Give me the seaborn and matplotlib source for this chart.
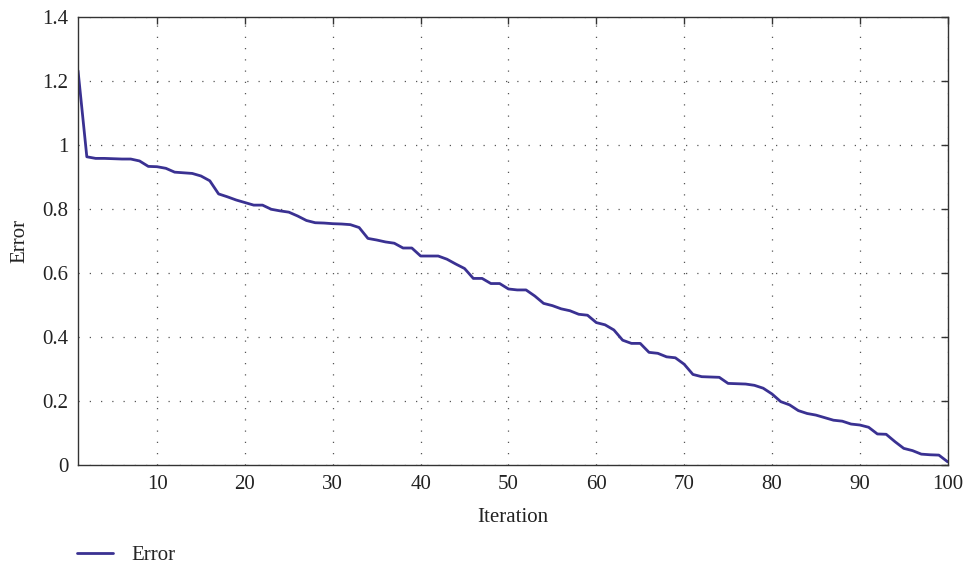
import seaborn as sns
import matplotlib.pyplot as plt
import numpy as np
import pandas as pd

iterations = list(range(1, 101))
error = [1.232, 0.963, 0.958, 0.958, 0.957, 0.956, 0.956, 0.950, 0.933, 0.932,
         0.927, 0.915, 0.913, 0.911, 0.903, 0.888, 0.847, 0.838, 0.828, 0.820,
         0.812, 0.812, 0.799, 0.794, 0.790, 0.778, 0.764, 0.757, 0.756, 0.754,
         0.753, 0.751, 0.742, 0.708, 0.703, 0.697, 0.693, 0.678, 0.678, 0.653,
         0.653, 0.653, 0.643, 0.628, 0.614, 0.583, 0.583, 0.567, 0.567, 0.550,
         0.547, 0.547, 0.528, 0.505, 0.498, 0.488, 0.482, 0.471, 0.468, 0.445,
         0.438, 0.422, 0.390, 0.380, 0.380, 0.352, 0.349, 0.338, 0.335, 0.315,
         0.283, 0.276, 0.275, 0.274, 0.255, 0.254, 0.253, 0.249, 0.240, 0.222,
         0.198, 0.188, 0.170, 0.161, 0.156, 0.148, 0.140, 0.137, 0.128, 0.125,
         0.118, 0.097, 0.096, 0.073, 0.052, 0.045, 0.034, 0.032, 0.031, 0.010]
x_ticks = [10, 20, 30, 40, 50, 60, 70, 80, 90, 100]
y_ticks = [0, 0.2, 0.4, 0.6, 0.8, 1.0, 1.2, 1.4]
y_labels = ['0', '0.2', '0.4', '0.6', '0.8', '1', '1.2', '1.4']

df = pd.DataFrame({'Iteration': iterations, 'Error': error})

sns.set_style('white')
plt.rcParams['font.family'] = ['Liberation Serif', 'DejaVu Serif']
fs = 15

fig = plt.figure(figsize=(9.67, 5.64), dpi=100)
ax = fig.add_axes([0.0807, 0.1755, 0.8993, 0.7945])

sns.lineplot(data=df, x='Iteration', y='Error', ax=ax, color='#3a3192',
             linewidth=2.0, label='Error', legend=False)

ax.set_xlim(1, 100)
ax.set_ylim(0, 1.4)
ax.set_xticks(x_ticks)
ax.set_yticks(y_ticks)
ax.set_yticklabels(y_labels)
ax.grid(True, color='#555555', linestyle=(0, (1, 8)), linewidth=0.9)
ax.tick_params(direction='in', top=True, right=True, length=5, width=1,
               colors='#333333', labelsize=fs, labelcolor='#222222')
ax.tick_params(axis='y', pad=7)
ax.tick_params(axis='x', pad=7)
for s in ax.spines.values():
    s.set_color('#333333')
    s.set_linewidth(1.0)
ax.set_xlabel('Iteration', fontsize=fs, color='#222222', labelpad=10)
ax.set_ylabel('Error', fontsize=fs, color='#222222', labelpad=9)

handles, labels = ax.get_legend_handles_labels()
fig.legend(handles, labels, loc='lower left', bbox_to_anchor=(0.06, -0.035),
           frameon=False, fontsize=fs, handlelength=1.75, handletextpad=0.85)

fig.savefig('out.png', dpi=100)
